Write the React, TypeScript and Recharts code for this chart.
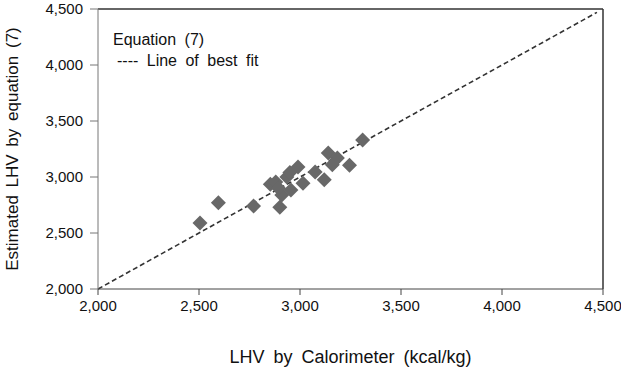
import React from "react";
import {
  ScatterChart,
  Scatter,
  XAxis,
  YAxis,
  ReferenceLine,
  Customized,
} from "recharts";

const calorimeterLHV = [
  2505, 2596, 2770, 2853, 2880, 2900, 2910, 2894, 2935, 2955, 2950, 2990,
  3015, 3075, 3120, 3140, 3185, 3160, 3245, 3310,
];
const estimatedLHV = [
  2590, 2770, 2740, 2935, 2955, 2730, 2840, 2900, 3000, 2885, 3040, 3090,
  2945, 3045, 2975, 3215, 3170, 3110, 3105, 3330,
];
const axisTicks = [2000, 2500, 3000, 3500, 4000, 4500];
const fitLine = [2000, 4470];

const points = calorimeterLHV.map((x, i) => ({ x, y: estimatedLHV[i] }));

const fmt = (v: number) => v.toLocaleString("en-US");

const FONT = "'Liberation Sans', Arial, sans-serif";

const Diamond = (props: any) => {
  const { cx, cy } = props;
  if (cx == null || cy == null) return null;
  const r = 7.5;
  return (
    <polygon
      points={`${cx},${cy - r} ${cx + r},${cy} ${cx},${cy + r} ${cx - r},${cy}`}
      fill="#686868"
    />
  );
};

const LegendText = () => (
  <g fontFamily={FONT} fontSize={16} fill="#111" style={{ wordSpacing: "4px" }}>
    <text x={113} y={45}>Equation (7)</text>
    <text x={117} y={66}>---- Line of best fit</text>
  </g>
);

export default function App() {
  return (
    <div style={{ position: "absolute", left: 0, top: 0, background: "#fff" }}>
      <ScatterChart
        width={621}
        height={370}
        margin={{ top: 9, right: 18, bottom: 0, left: 0 }}
      >
        <XAxis
          type="number"
          dataKey="x"
          domain={[2000, 4500]}
          ticks={axisTicks}
          tickFormatter={fmt}
          allowDataOverflow
          height={81}
          tickSize={6}
          tickMargin={5}
          stroke="#444"
          tick={{ fill: "#111", fontSize: 15, fontFamily: FONT }}
          label={{
            value: "LHV by Calorimeter (kcal/kg)",
            position: "insideBottom",
            offset: 7,
            style: { fill: "#111", fontSize: 18, fontFamily: FONT, wordSpacing: "4px" },
          }}
        />
        <YAxis
          type="number"
          dataKey="y"
          domain={[2000, 4500]}
          ticks={axisTicks}
          tickFormatter={fmt}
          allowDataOverflow
          width={98}
          tickSize={8}
          tickMargin={7}
          stroke="#777"
          tick={{ fill: "#111", fontSize: 15, fontFamily: FONT }}
          label={{
            value: "Estimated LHV by equation (7)",
            angle: -90,
            position: "insideLeft",
            offset: 12,
            style: {
              fill: "#111",
              fontSize: 17,
              fontFamily: FONT,
              wordSpacing: "3px",
              textAnchor: "middle",
            },
          }}
        />
        <ReferenceLine y={4500} stroke="#333" strokeWidth={1.5} ifOverflow="extendDomain" />
        <ReferenceLine x={4500} stroke="#333" strokeWidth={1.5} ifOverflow="extendDomain" />
        <ReferenceLine
          segment={[
            { x: fitLine[0], y: fitLine[0] },
            { x: fitLine[1], y: fitLine[1] },
          ]}
          stroke="#333"
          strokeWidth={1.6}
          strokeDasharray="5 3"
        />
        <Scatter
          data={points}
          shape={<Diamond />}
          isAnimationActive={false}
        />
        <Customized component={LegendText} />
      </ScatterChart>
    </div>
  );
}
